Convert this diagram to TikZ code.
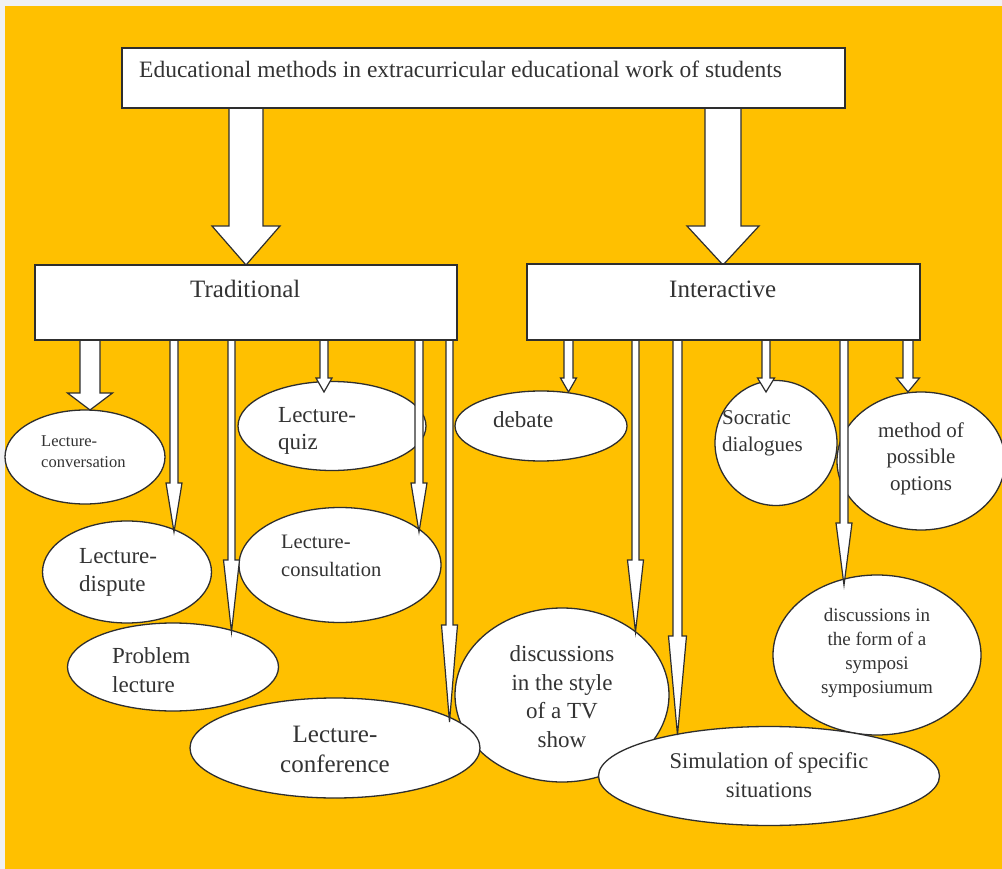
\documentclass[tikz,border=0pt]{standalone}
\usepackage{fontspec}
\setmainfont{Liberation Serif}
\usetikzlibrary{shapes.geometric}
\definecolor{bgorange}{HTML}{FFC000}
\definecolor{bggray}{HTML}{F0F1F3}
\definecolor{ink}{HTML}{2E2E2E}
\definecolor{txt}{HTML}{333333}
\newcommand\fsb[2]{\fontsize{#1pt}{#2pt}\selectfont}
\newcommand\blockarr[6]{% x centre, y top, y tip, shaft half width, head half width, head base y
  \draw[barrow] ({#1-#4},#2) -- ({#1-#4},#6) -- ({#1-#5},#6) -- (#1,#3) -- ({#1+#5},#6) -- ({#1+#4},#6) -- ({#1+#4},#2);}
\begin{document}
\begin{tikzpicture}[x=1pt,y=-1pt,
  box/.style={draw=ink,line width=1.3pt,fill=white},
  oval/.style={ellipse,draw=ink,line width=1.3pt,fill=white,inner sep=0pt},
  barrow/.style={draw=ink,line width=1.2pt,fill=white,line join=miter},
  lbl/.style={text=txt,inner sep=0pt,align=left,anchor=base west},
  clbl/.style={text=txt,inner sep=0pt,align=center,anchor=base}]
\useasboundingbox (0,0) rectangle (1002,869);
\fill[bggray] (0,0) rectangle (1002,869);
\fill[bgorange] (5,6) rectangle (1002,869);

% ellipses
\node[oval,minimum width=160pt,minimum height=94pt] (conv) at (85,457) {};
\node[oval,minimum width=188pt,minimum height=89pt] (quiz) at (332,426) {};
\node[oval,minimum width=202pt,minimum height=115pt] (cons) at (340,565) {};
\node[oval,minimum width=169pt,minimum height=102pt] (disp) at (127,572) {};
\node[oval,minimum width=211pt,minimum height=88pt] (prob) at (173,667) {};
\node[oval,minimum width=214pt,minimum height=174pt] (tv) at (562,695) {};
\node[oval,minimum width=290pt,minimum height=100pt] (conf) at (335,748) {};
\node[oval,minimum width=172pt,minimum height=70pt] (deb) at (541,426) {};
\node[oval,minimum width=122pt,minimum height=125pt] (socr) at (776,443) {};
\node[oval,minimum width=168pt,minimum height=138pt] (opt) at (921,461) {};
\node[oval,minimum width=208pt,minimum height=160pt] (symp) at (877,655) {};
\node[oval,minimum width=341pt,minimum height=99pt] (simu) at (769,776) {};

% texts in ellipses (anchor = baseline of the last line)
\node[lbl,font=\fsb{16.5}{20.5}] (tconv) at (41,467) {Lecture-\\conversation};
\node[lbl,font=\fsb{23}{27}] (tquiz) at (278,449) {Lecture-\\quiz};
\node[lbl,font=\fsb{20.5}{27.5}] (tcons) at (281,576) {Lecture-\\consultation};
\node[lbl,font=\fsb{23}{28}] (tdisp) at (79,591) {Lecture-\\dispute};
\node[lbl,font=\fsb{23}{29}] (tprob) at (112,692) {Problem\\lecture};
\node[clbl,font=\fsb{25}{30}] (tconf) at (335,772) {Lecture-\\conference};
\node[lbl,font=\fsb{23}{27}] (tdeb) at (493,427) {debate};
\node[lbl,font=\fsb{21}{27}] (tsocr) at (722,451) {Socratic\\dialogues};
\node[clbl,font=\fsb{21}{26.5}] (topt) at (921,490) {method of\\possible\\options};
\node[clbl,font=\fsb{19}{23.7}] (tsymp) at (877,693) {discussions in\\the form of a\\symposi\\symposiumum};
\node[clbl,font=\fsb{23}{28.5}] (ttv) at (562,747) {discussions\\in the style\\of a TV\\show};
\node[clbl,font=\fsb{22.5}{28.5}] (tsimu) at (769,797) {Simulation of specific\\situations};

% big arrows
\blockarr{246}{100}{265}{17}{34}{226}
\blockarr{723}{100}{265}{18}{36}{226}
% small arrows from Traditional
\blockarr{90}{334}{410}{10}{22.5}{393}
\blockarr{174}{334}{532}{4}{8}{483}
\blockarr{231.5}{334}{632}{3.5}{8}{560}
\blockarr{324}{334}{392}{4}{8}{378}
\blockarr{419}{334}{532}{4}{8}{483}
\blockarr{449.5}{334}{722}{3.5}{8}{625}
% small arrows from Interactive
\blockarr{568.5}{334}{392}{4.5}{8}{378}
\blockarr{635.5}{334}{632}{3.5}{8}{560}
\blockarr{677.5}{334}{735}{4.5}{9}{636}
\blockarr{766}{334}{392}{4}{8.5}{378}
\blockarr{844}{334}{585}{4}{8}{523}
\blockarr{908}{334}{392}{5}{11.5}{378}

% boxes
\draw[box] (122,48) rectangle (845,108);
\node[lbl,font=\fsb{23.5}{28}] (title) at (139,78) {Educational methods in extracurricular educational work of students};
\draw[box] (35,265) rectangle (457,340);
\node[lbl,font=\fsb{25}{30}] (trad) at (190,298) {Traditional};
\draw[box] (527,264) rectangle (920,340);
\node[lbl,font=\fsb{25}{30}] (inter) at (669,298) {Interactive};
\end{tikzpicture}
\end{document}
